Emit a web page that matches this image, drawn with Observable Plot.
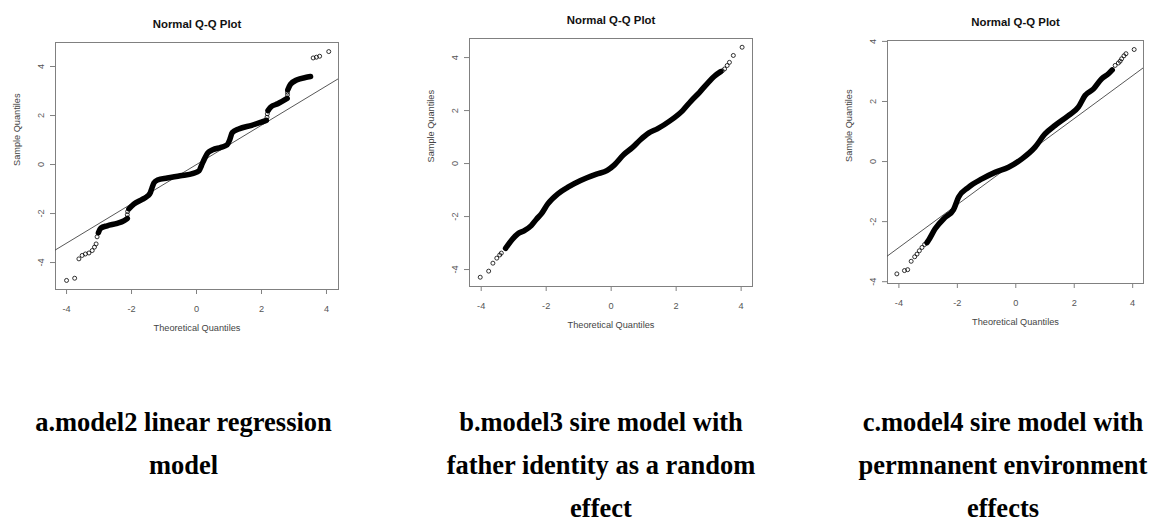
<!DOCTYPE html>
<html><head><meta charset="utf-8">
<script src="https://cdn.jsdelivr.net/npm/d3@7"></script>
<script src="https://cdn.jsdelivr.net/npm/@observablehq/plot@0.6"></script>
<style>
body{margin:0;background:#fff;}
#root{position:relative;width:1152px;height:524px;overflow:hidden;background:#fff;}
.panel{position:absolute;top:0;}
.cap{position:absolute;width:420px;height:24px;font-family:"Liberation Serif","Times New Roman",serif;font-weight:bold;font-size:26.5px;line-height:24px;text-align:center;color:#000;white-space:nowrap;}
.sep{position:absolute;left:776px;top:0;width:1px;height:343px;background:#ececec;}
</style></head><body><div id="root"><div class="sep"></div></div>
<script>
// ---- shared text / ticks ----
const xTicks = [-4, -2, 0, 2, 4];
const yTicks = [-4, -2, 0, 2, 4];
const titleText = "Normal Q-Q Plot";
const xLabel = "Theoretical Quantiles";
const yLabel = "Sample Quantiles";
const captionA = ["a.model2 linear regression", "model"];
const captionB = ["b.model3 sire model with", "father identity as a random", "effect"];
const captionC = ["c.model4 sire model with", "permnanent environment", "effects"];

// ---- panel a: (theoretical, sample) ----
const aBand1 = [[-3.02,-2.78],[-2.95,-2.6],[-2.75,-2.5],[-2.44,-2.4],[-2.24,-2.3],[-2.13,-2.2]];
const aBand2 = [[-2.08,-1.81],[-1.93,-1.62],[-1.67,-1.42],[-1.5,-1.28],[-1.42,-1.15],[-1.37,-0.95],[-1.31,-0.75],[-1.2,-0.63],[-0.9,-0.55],[-0.5,-0.46],[-0.1,-0.36],[0.08,-0.25],[0.15,-0.05],[0.25,0.25],[0.35,0.48],[0.5,0.6],[0.75,0.7],[0.94,0.8],[1.02,1.0],[1.1,1.3],[1.3,1.45],[1.7,1.6],[2.15,1.8]];
const aBand3 = [[2.2,2.2],[2.28,2.34],[2.5,2.48],[2.79,2.7]];
const aBand4 = [[2.81,3.05],[2.89,3.27],[3.1,3.46],[3.35,3.55],[3.51,3.59]];
const aDots = [[-4.0,-4.73],[-3.75,-4.64],[-3.62,-3.85],[-3.52,-3.71],[-3.42,-3.65],[-3.31,-3.61],[-3.21,-3.51],[-3.14,-3.37],[-3.09,-3.24],[-3.06,-2.95],[-2.13,-2.05],[-2.12,-1.92],[2.17,1.93],[2.18,2.07],[2.8,2.85],[2.8,2.95],[3.59,4.35],[3.69,4.38],[3.79,4.42],[4.07,4.61]];
const aRef = [[-4.5,-3.61],[4.5,3.61]];

// ---- panel b ----
const bBand1 = [[-3.25,-3.2],[-3.03,-2.84],[-2.87,-2.65],[-2.67,-2.53],[-2.46,-2.34],[-2.3,-2.1],[-2.15,-1.9],[-1.95,-1.52],[-1.64,-1.14],[-1.33,-0.89],[-0.94,-0.64],[-0.45,-0.4],[-0.12,-0.26],[0.1,-0.05],[0.39,0.34],[0.65,0.6],[0.9,0.9],[1.15,1.15],[1.42,1.31],[1.82,1.62],[2.2,2.0],[2.45,2.35],[2.72,2.69],[2.95,3.01],[3.2,3.32],[3.37,3.47]];
const bDots = [[-4.03,-4.29],[-3.77,-4.06],[-3.64,-3.76],[-3.52,-3.57],[-3.43,-3.45],[-3.38,-3.38],[3.42,3.5],[3.49,3.57],[3.57,3.7],[3.64,3.82],[3.76,4.08],[4.03,4.39]];

// ---- panel c ----
const cBand1 = [[-3.04,-2.7],[-2.99,-2.63],[-2.76,-2.24],[-2.42,-1.86],[-2.13,-1.6],[-1.96,-1.19],[-1.62,-0.86],[-1.16,-0.58],[-0.71,-0.36],[-0.25,-0.19],[0.21,0.09],[0.66,0.48],[1.0,0.92],[1.34,1.2],[1.8,1.53],[2.14,1.81],[2.37,2.2],[2.66,2.42],[2.94,2.76],[3.17,2.92],[3.3,3.05]];
const cDots = [[-4.07,-3.74],[-3.81,-3.63],[-3.7,-3.6],[-3.58,-3.32],[-3.46,-3.17],[-3.38,-3.08],[-3.3,-2.97],[-3.21,-2.86],[-3.12,-2.76],[3.4,3.2],[3.51,3.28],[3.57,3.34],[3.62,3.42],[3.7,3.52],[3.77,3.59],[4.05,3.73]];
const cRef = [[-4.5,-3.22],[4.5,3.22]];

function panel({width, height, ml, mr, mt, mb, xd, yd, bands, dots, ref}) {
  const bandData = bands.flatMap((seg, i) => seg.map(([x, y]) => ({x, y, seg: i})));
  const dotData = dots.map(([x, y]) => ({x, y}));
  const marks = [
    Plot.frame({stroke: "#808080", strokeWidth: 1}),
    Plot.axisX({ticks: xTicks, tickSize: 5, tickPadding: 10.5, fontSize: 9.2, fill: "#555", stroke: "#808080", tickFormat: d => String(d), label: null}),
    Plot.axisY({ticks: yTicks, tickSize: 5, tickPadding: 6.5, tickRotate: -90, fontSize: 9.2, fill: "#555", stroke: "#808080", tickFormat: d => String(d), label: null})
  ];
  if (ref) marks.push(Plot.line(ref, {x: d => d[0], y: d => d[1], stroke: "#444", strokeWidth: 0.9, clip: true}));
  marks.push(Plot.line(bandData, {x: "x", y: "y", z: "seg", curve: "monotone-x", stroke: "#000", strokeWidth: 5.5, strokeLinecap: "round", strokeLinejoin: "round"}));
  marks.push(Plot.dot(dotData, {x: "x", y: "y", r: 2, stroke: "#000", strokeWidth: 0.8, fill: "none"}));
  marks.push(Plot.text([titleText], {text: d => d, frameAnchor: "top", dy: -23, fontWeight: "bold", fontSize: 11.4, fill: "#111"}));
  marks.push(Plot.text([xLabel], {text: d => d, frameAnchor: "bottom", dy: 41, fontSize: 9.2, fill: "#444"}));
  marks.push(Plot.text([yLabel], {text: d => d, frameAnchor: "left", dx: -38, rotate: -90, fontSize: 9.2, fill: "#444"}));
  return Plot.plot({
    width, height, marginLeft: ml, marginRight: mr, marginTop: mt, marginBottom: mb,
    x: {domain: xd}, y: {domain: yd},
    style: {fontFamily: "'Liberation Sans', Arial, sans-serif", background: "white", overflow: "visible"},
    marks
  });
}

const root = document.getElementById("root");
function place(el, left) {
  el.classList.add("panel");
  el.style.left = left + "px";
  root.appendChild(el);
}
place(panel({width: 384, height: 345, ml: 55, mr: 46, mt: 42, mb: 56, xd: [-4.34, 4.37], yd: [-5.1, 4.98], bands: [aBand1, aBand2, aBand3, aBand4], dots: aDots, ref: aRef}), 0);
place(panel({width: 384, height: 345, ml: 85, mr: 16, mt: 38, mb: 59, xd: [-4.36, 4.35], yd: [-4.64, 4.72], bands: [bBand1], dots: bDots, ref: null}), 384);
place(panel({width: 384, height: 345, ml: 119, mr: 9, mt: 40, mb: 62, xd: [-4.39, 4.37], yd: [-4.06, 4.03], bands: [cBand1], dots: cDots, ref: cRef}), 768);

function caption(lines, center) {
  lines.forEach((t, i) => {
    const d = document.createElement("div");
    d.className = "cap";
    d.style.left = (center - 210) + "px";
    d.style.top = (410 + 43 * i) + "px";
    d.textContent = t;
    root.appendChild(d);
  });
}
caption(captionA, 183.5);
caption(captionB, 601);
caption(captionC, 1003);
</script>
</body></html>
